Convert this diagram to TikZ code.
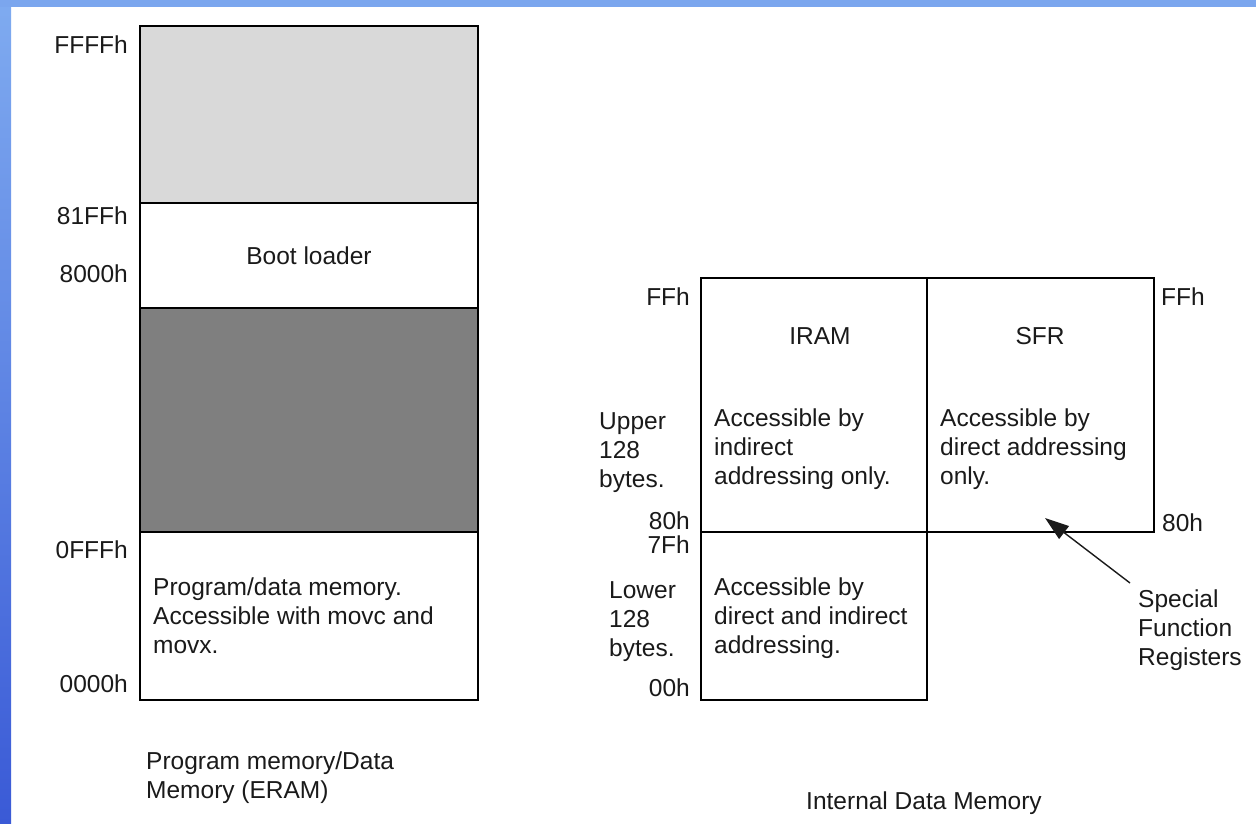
\documentclass[tikz,border=0pt]{standalone}
\usepackage{fontspec}
\setmainfont{Liberation Sans}
\usetikzlibrary{arrows.meta}
\definecolor{barTop}{HTML}{7FABF0}
\definecolor{barBot}{HTML}{3A5AD6}
\definecolor{stripC}{HTML}{7BA6EE}
\definecolor{lightG}{HTML}{D9D9D9}
\definecolor{darkG}{HTML}{7F7F7F}
\definecolor{txt}{HTML}{1A1A1A}
\begin{document}
\begin{tikzpicture}[x=1pt,y=-1pt,
  lbl/.style={inner sep=0pt, text=txt, font=\fontsize{24.5}{29}\selectfont, align=left},
  box/.style={draw=black, line width=1.6pt},
]
\useasboundingbox (0,0) rectangle (1256,824);
\fill[white] (0,0) rectangle (1256,824);
\shade[top color=barTop, bottom color=barBot] (0,0) rectangle (11,824);
\fill[stripC] (0,0) rectangle (1256,7);

% left memory map
\fill[lightG] (140,26) rectangle (478,203);
\fill[darkG] (140,308) rectangle (478,532);
\draw[box] (140,26) rectangle (478,700);
\draw[box] (140,203) -- (478,203);
\draw[box] (140,308) -- (478,308);
\draw[box] (140,532) -- (478,532);

\node[lbl, anchor=base east] (a1) at (128,54) {FFFFh};
\node[lbl, anchor=base east] (a2) at (128,224) {81FFh};
\node[lbl, anchor=base east] (a3) at (128,282) {8000h};
\node[lbl, anchor=base east] (a4) at (128,558) {0FFFh};
\node[lbl, anchor=base east] (a5) at (128,692) {0000h};
\node[lbl, anchor=base] (boot) at (309,264) {Boot loader};
\node[lbl, anchor=base west] (prog) at (153,653) {Program/data memory.\\Accessible with movc and\\movx.};
\node[lbl, anchor=base west] (cap1) at (146,798) {Program memory/Data\\Memory (ERAM)};

% right internal memory
\draw[box] (701,278) rectangle (927,532);
\draw[box] (927,278) rectangle (1154,532);
\draw[box] (701,532) rectangle (927,700);

\node[lbl, anchor=base] (iram) at (820,344) {IRAM};
\node[lbl, anchor=base] (sfr) at (1040,344) {SFR};
\node[lbl, anchor=base east] (b1) at (690,305) {FFh};
\node[lbl, anchor=base west] (b2) at (1161,305) {FFh};
\node[lbl, anchor=base east] (b3) at (690,529) {80h};
\node[lbl, anchor=base east] (b4) at (690,553) {7Fh};
\node[lbl, anchor=base east] (b5) at (690,696) {00h};
\node[lbl, anchor=base west] (b6) at (1162,531) {80h};
\node[lbl, anchor=base west] (up) at (599,487) {Upper\\128\\bytes.};
\node[lbl, anchor=base west] (lo) at (609,656) {Lower\\128\\bytes.};
\node[lbl, anchor=base west] (c1) at (714,484) {Accessible by\\indirect\\addressing only.};
\node[lbl, anchor=base west] (c2) at (940,484) {Accessible by\\direct addressing\\only.};
\node[lbl, anchor=base west] (c3) at (714,653) {Accessible by\\direct and indirect\\addressing.};
\node[lbl, anchor=base west] (note) at (1138,665) {Special\\Function\\Registers};
\node[lbl, anchor=base] (cap2) at (924,809) {Internal Data Memory};

\coordinate (tip) at (1045,518);
\coordinate (tail) at (1130,583);
\draw[line width=1.4pt, draw=txt, -{Triangle[length=24pt,width=16pt]}] (tail) -- (tip);
\end{tikzpicture}
\end{document}
